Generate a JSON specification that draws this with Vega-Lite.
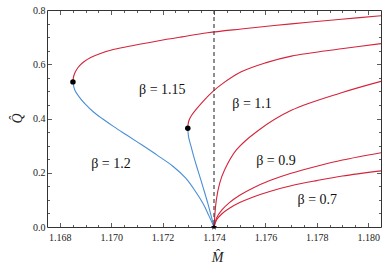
{
  "$schema": "https://vega.github.io/schema/vega-lite/v6.json",
  "width": 334,
  "height": 217,
  "autosize": {"type": "none"},
  "padding": {"left": 47, "top": 10, "right": 9, "bottom": 42},
  "config": {
    "view": {"stroke": "#333", "strokeWidth": 1},
    "axis": {"grid": false, "labelFont": "Liberation Serif, Times New Roman, DejaVu Serif, serif", "titleFont": "Liberation Serif, Times New Roman, DejaVu Serif, serif", "labelColor": "#222", "titleColor": "#222", "tickColor": "#333", "tickWidth": 0.8}
  },
  "datasets": {
    "curves": [
      {"s": "b12r", "c": "r", "x": 1.16851, "y": 0.535},
      {"s": "b12r", "c": "r", "x": 1.168525, "y": 0.550},
      {"s": "b12r", "c": "r", "x": 1.16857, "y": 0.565},
      {"s": "b12r", "c": "r", "x": 1.16865, "y": 0.580},
      {"s": "b12r", "c": "r", "x": 1.16877, "y": 0.595},
      {"s": "b12r", "c": "r", "x": 1.16895, "y": 0.610},
      {"s": "b12r", "c": "r", "x": 1.16920, "y": 0.625},
      {"s": "b12r", "c": "r", "x": 1.16958, "y": 0.640},
      {"s": "b12r", "c": "r", "x": 1.17012, "y": 0.655},
      {"s": "b12r", "c": "r", "x": 1.17090, "y": 0.670},
      {"s": "b12r", "c": "r", "x": 1.17180, "y": 0.686},
      {"s": "b12r", "c": "r", "x": 1.17275, "y": 0.701},
      {"s": "b12r", "c": "r", "x": 1.17375, "y": 0.716},
      {"s": "b12r", "c": "r", "x": 1.17506, "y": 0.730},
      {"s": "b12r", "c": "r", "x": 1.17701, "y": 0.749},
      {"s": "b12r", "c": "r", "x": 1.17896, "y": 0.766},
      {"s": "b12r", "c": "r", "x": 1.18050, "y": 0.779},

      {"s": "b12b", "c": "b", "x": 1.16851, "y": 0.535},
      {"s": "b12b", "c": "b", "x": 1.16858, "y": 0.505},
      {"s": "b12b", "c": "b", "x": 1.16875, "y": 0.480},
      {"s": "b12b", "c": "b", "x": 1.16900, "y": 0.452},
      {"s": "b12b", "c": "b", "x": 1.16930, "y": 0.425},
      {"s": "b12b", "c": "b", "x": 1.16966, "y": 0.399},
      {"s": "b12b", "c": "b", "x": 1.17010, "y": 0.370},
      {"s": "b12b", "c": "b", "x": 1.17060, "y": 0.339},
      {"s": "b12b", "c": "b", "x": 1.17120, "y": 0.302},
      {"s": "b12b", "c": "b", "x": 1.17180, "y": 0.264},
      {"s": "b12b", "c": "b", "x": 1.17240, "y": 0.224},
      {"s": "b12b", "c": "b", "x": 1.17290, "y": 0.180},
      {"s": "b12b", "c": "b", "x": 1.17330, "y": 0.128},
      {"s": "b12b", "c": "b", "x": 1.17360, "y": 0.082},
      {"s": "b12b", "c": "b", "x": 1.17380, "y": 0.042},
      {"s": "b12b", "c": "b", "x": 1.17400, "y": 0.0},

      {"s": "b115r", "c": "r", "x": 1.17298, "y": 0.364},
      {"s": "b115r", "c": "r", "x": 1.17301, "y": 0.388},
      {"s": "b115r", "c": "r", "x": 1.17311, "y": 0.409},
      {"s": "b115r", "c": "r", "x": 1.17337, "y": 0.441},
      {"s": "b115r", "c": "r", "x": 1.17363, "y": 0.469},
      {"s": "b115r", "c": "r", "x": 1.17396, "y": 0.500},
      {"s": "b115r", "c": "r", "x": 1.17428, "y": 0.525},
      {"s": "b115r", "c": "r", "x": 1.17506, "y": 0.572},
      {"s": "b115r", "c": "r", "x": 1.17600, "y": 0.605},
      {"s": "b115r", "c": "r", "x": 1.17701, "y": 0.630},
      {"s": "b115r", "c": "r", "x": 1.17896, "y": 0.657},
      {"s": "b115r", "c": "r", "x": 1.18050, "y": 0.676},

      {"s": "b115b", "c": "b", "x": 1.17298, "y": 0.364},
      {"s": "b115b", "c": "b", "x": 1.17301, "y": 0.332},
      {"s": "b115b", "c": "b", "x": 1.17311, "y": 0.296},
      {"s": "b115b", "c": "b", "x": 1.17324, "y": 0.250},
      {"s": "b115b", "c": "b", "x": 1.17337, "y": 0.210},
      {"s": "b115b", "c": "b", "x": 1.17357, "y": 0.148},
      {"s": "b115b", "c": "b", "x": 1.17376, "y": 0.087},
      {"s": "b115b", "c": "b", "x": 1.17400, "y": 0.0},

      {"s": "b11", "c": "r", "x": 1.17400, "y": 0.0},
      {"s": "b11", "c": "r", "x": 1.17409, "y": 0.099},
      {"s": "b11", "c": "r", "x": 1.17422, "y": 0.161},
      {"s": "b11", "c": "r", "x": 1.17441, "y": 0.210},
      {"s": "b11", "c": "r", "x": 1.17487, "y": 0.284},
      {"s": "b11", "c": "r", "x": 1.17571, "y": 0.355},
      {"s": "b11", "c": "r", "x": 1.17701, "y": 0.430},
      {"s": "b11", "c": "r", "x": 1.17896, "y": 0.495},
      {"s": "b11", "c": "r", "x": 1.18050, "y": 0.537},

      {"s": "b09", "c": "r", "x": 1.17400, "y": 0.0},
      {"s": "b09", "c": "r", "x": 1.17410, "y": 0.033},
      {"s": "b09", "c": "r", "x": 1.17430, "y": 0.062},
      {"s": "b09", "c": "r", "x": 1.17460, "y": 0.090},
      {"s": "b09", "c": "r", "x": 1.17500, "y": 0.117},
      {"s": "b09", "c": "r", "x": 1.17550, "y": 0.143},
      {"s": "b09", "c": "r", "x": 1.17620, "y": 0.172},
      {"s": "b09", "c": "r", "x": 1.17700, "y": 0.198},
      {"s": "b09", "c": "r", "x": 1.17800, "y": 0.224},
      {"s": "b09", "c": "r", "x": 1.17900, "y": 0.247},
      {"s": "b09", "c": "r", "x": 1.18050, "y": 0.274},

      {"s": "b07", "c": "r", "x": 1.17400, "y": 0.0},
      {"s": "b07", "c": "r", "x": 1.17410, "y": 0.026},
      {"s": "b07", "c": "r", "x": 1.17430, "y": 0.048},
      {"s": "b07", "c": "r", "x": 1.17460, "y": 0.069},
      {"s": "b07", "c": "r", "x": 1.17500, "y": 0.090},
      {"s": "b07", "c": "r", "x": 1.17550, "y": 0.110},
      {"s": "b07", "c": "r", "x": 1.17620, "y": 0.132},
      {"s": "b07", "c": "r", "x": 1.17700, "y": 0.152},
      {"s": "b07", "c": "r", "x": 1.17800, "y": 0.171},
      {"s": "b07", "c": "r", "x": 1.17900, "y": 0.188},
      {"s": "b07", "c": "r", "x": 1.18050, "y": 0.207}
    ],
    "dots": [
      {"x": 1.16851, "y": 0.535},
      {"x": 1.17298, "y": 0.364}
    ],
    "star": [{"x": 1.174, "y": 0.0}],
    "vline": [{"x": 1.174}],
    "labels": [
      {"t": "β = 1.15", "x": 1.17199, "y": 0.504},
      {"t": "β = 1.1", "x": 1.17548, "y": 0.454},
      {"t": "β = 1.2", "x": 1.16999, "y": 0.232},
      {"t": "β = 0.9", "x": 1.17641, "y": 0.243},
      {"t": "β = 0.7", "x": 1.17802, "y": 0.099}
    ]
  },
  "layer": [
    {
      "data": {"name": "curves"},
      "mark": {"type": "line", "strokeWidth": 1.1, "interpolate": "catmull-rom", "clip": true},
      "encoding": {
        "x": {"field": "x", "type": "quantitative", "scale": {"domain": [1.1675, 1.1805], "nice": false, "zero": false},
          "axis": {"orient": "bottom", "values": [1.168, 1.17, 1.172, 1.174, 1.176, 1.178, 1.18], "format": ".3f", "ticks": false, "domain": false, "labelFontSize": 10, "labelPadding": 5, "title": "M̂", "titleFontSize": 14, "titleFontStyle": "italic", "titleFontWeight": "normal", "titleY": 23, "titleX": 170}},
        "y": {"field": "y", "type": "quantitative", "scale": {"domain": [0, 0.8], "nice": false},
          "axis": {"orient": "left", "values": [0, 0.2, 0.4, 0.6, 0.8], "format": ".1f", "ticks": false, "domain": false, "labelFontSize": 10, "labelPadding": 2, "title": "Q̂", "titleFontSize": 14, "titleFontStyle": "italic", "titleFontWeight": "normal", "titleX": -30, "titleY": 108, "titleAngle": -90, "titleBaseline": "middle"}},
        "color": {"field": "c", "type": "nominal", "scale": {"domain": ["r", "b"], "range": ["#d3243a", "#4a8ed6"]}, "legend": null},
        "detail": {"field": "s"},
        "order": {"value": null}
      }
    },
    {
      "data": {"name": "vline"},
      "mark": {"type": "rule", "strokeDash": [4, 3], "color": "#444", "strokeWidth": 1.2},
      "encoding": {
        "x": {"field": "x", "type": "quantitative", "axis": null}
      }
    },
    {
      "data": {"name": "dots"},
      "mark": {"type": "point", "filled": true, "color": "#000", "size": 30, "opacity": 1},
      "encoding": {
        "x": {"field": "x", "type": "quantitative",
          "axis": {"orient": "bottom", "values": [1.168, 1.1685, 1.169, 1.1695, 1.17, 1.1705, 1.171, 1.1715, 1.172, 1.1725, 1.173, 1.1735, 1.174, 1.1745, 1.175, 1.1755, 1.176, 1.1765, 1.177, 1.1775, 1.178, 1.1785, 1.179, 1.1795, 1.18], "labels": false, "domain": false, "title": null,
            "tickSize": {"condition": {"test": "round(datum.value*2000)%4==0", "value": -4.5}, "value": -2.5}}},
        "y": {"field": "y", "type": "quantitative",
          "axis": {"orient": "left", "values": [0.05, 0.1, 0.15, 0.2, 0.25, 0.3, 0.35, 0.4, 0.45, 0.5, 0.55, 0.6, 0.65, 0.7, 0.75], "labels": false, "domain": false, "title": null,
            "tickSize": {"condition": {"test": "round(datum.value*20)%4==0", "value": -4.5}, "value": -2.5}}}
      }
    },
    {
      "data": {"name": "labels"},
      "mark": {"type": "text", "font": "Liberation Serif, Times New Roman, DejaVu Serif, serif", "fontSize": 14, "color": "#111", "align": "center", "baseline": "middle"},
      "encoding": {
        "x": {"field": "x", "type": "quantitative",
          "axis": {"orient": "top", "values": [1.168, 1.1685, 1.169, 1.1695, 1.17, 1.1705, 1.171, 1.1715, 1.172, 1.1725, 1.173, 1.1735, 1.174, 1.1745, 1.175, 1.1755, 1.176, 1.1765, 1.177, 1.1775, 1.178, 1.1785, 1.179, 1.1795, 1.18], "labels": false, "domain": false, "title": null,
            "tickSize": {"condition": {"test": "round(datum.value*2000)%4==0", "value": -4.5}, "value": -2.5}}},
        "y": {"field": "y", "type": "quantitative",
          "axis": {"orient": "right", "values": [0.05, 0.1, 0.15, 0.2, 0.25, 0.3, 0.35, 0.4, 0.45, 0.5, 0.55, 0.6, 0.65, 0.7, 0.75], "labels": false, "domain": false, "title": null,
            "tickSize": {"condition": {"test": "round(datum.value*20)%4==0", "value": -4.5}, "value": -2.5}}},
        "text": {"field": "t"}
      }
    },
    {
      "data": {"name": "star"},
      "mark": {"type": "point", "filled": true, "color": "#000", "size": 45, "opacity": 1, "clip": false,
        "shape": "M0,-1L0.235,-0.324L0.951,-0.309L0.38,0.124L0.588,0.809L0,0.4L-0.588,0.809L-0.38,0.124L-0.951,-0.309L-0.235,-0.324Z"},
      "encoding": {
        "x": {"field": "x", "type": "quantitative", "axis": null},
        "y": {"field": "y", "type": "quantitative", "axis": null}
      }
    }
  ],
  "resolve": {"axis": {"x": "independent", "y": "independent"}}
}
